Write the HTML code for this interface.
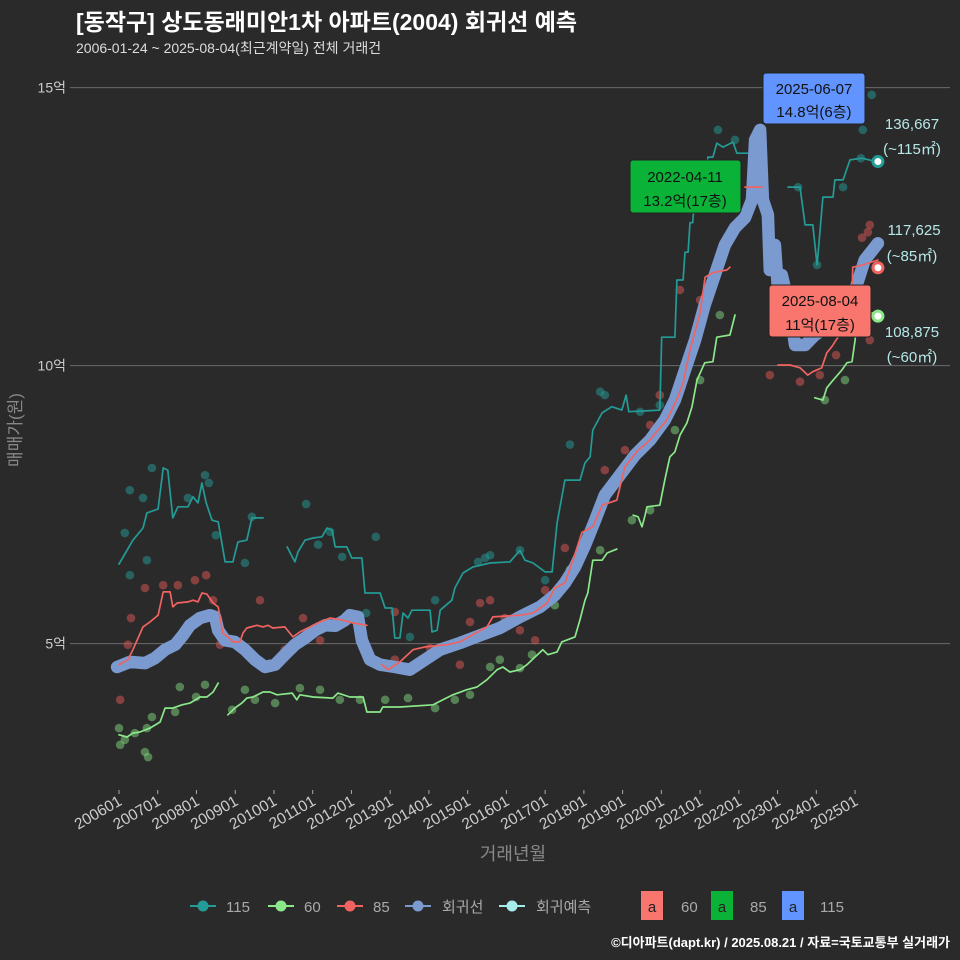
<!DOCTYPE html>
<html><head><meta charset="utf-8">
<style>
html,body{margin:0;padding:0;background:#2b2a2b;}
svg{display:block;font-family:"Liberation Sans","Noto Sans CJK KR",sans-serif;}
</style></head>
<body>
<svg id="chart" width="960" height="960" viewBox="0 0 960 960">
<rect x="0" y="0" width="960" height="960" fill="#2b2a2b"/>
<text x="76" y="30" fill="#ffffff" font-size="23" font-weight="bold">[동작구] 상도동래미안1차 아파트(2004) 회귀선 예측</text>
<text x="76" y="53" fill="#dddddd" font-size="14">2006-01-24 ~ 2025-08-04(최근계약일) 전체 거래건</text>
<g id="grid"></g>
<g id="yaxis"></g>
<g id="xaxis"></g>
<g id="dots"></g>
<g id="lines"></g>
<g id="ends"></g>
<text transform="translate(21,430) rotate(-90)" text-anchor="middle" fill="#888" font-size="17">매매가(원)</text>
<text x="513" y="860" text-anchor="middle" fill="#888" font-size="18">거래년월</text>

<g>
<rect x="763" y="73" width="102" height="51" rx="3" fill="#6194ff" stroke="#222" stroke-width="1"/>
<text x="814" y="94" text-anchor="middle" font-size="15" fill="#111">2025-06-07</text>
<text x="814" y="117" text-anchor="middle" font-size="15" fill="#111">14.8억(6층)</text>
</g>
<g>
<rect x="630" y="160" width="111" height="53" rx="3" fill="#0bb238" stroke="#222" stroke-width="1"/>
<text x="685" y="182" text-anchor="middle" font-size="15" fill="#111">2022-04-11</text>
<text x="685" y="206" text-anchor="middle" font-size="15" fill="#111">13.2억(17층)</text>
</g>
<g>
<rect x="769" y="285" width="102" height="52" rx="3" fill="#f8766d" stroke="#222" stroke-width="1"/>
<text x="820" y="306" text-anchor="middle" font-size="15" fill="#111">2025-08-04</text>
<text x="820" y="330" text-anchor="middle" font-size="15" fill="#111">11억(17층)</text>
</g>
<g fill="#b5e8e8" font-size="15">
<text x="912" y="129" text-anchor="middle">136,667</text>
<text x="912" y="154" text-anchor="middle">(~115㎡)</text>
<text x="914" y="235" text-anchor="middle">117,625</text>
<text x="912" y="261" text-anchor="middle">(~85㎡)</text>
<text x="912" y="337" text-anchor="middle">108,875</text>
<text x="912" y="362" text-anchor="middle">(~60㎡)</text>
</g>

<g font-size="15" fill="#aaa">
<g><line x1="190" y1="906" x2="216" y2="906" stroke="#239b96" stroke-width="2"/><circle cx="203" cy="906" r="5.5" fill="#239b96"/><text x="226" y="912">115</text></g>
<g><line x1="268" y1="906" x2="294" y2="906" stroke="#8ae88a" stroke-width="2"/><circle cx="281" cy="906" r="5.5" fill="#8ae88a"/><text x="304" y="912">60</text></g>
<g><line x1="337" y1="906" x2="363" y2="906" stroke="#f06360" stroke-width="2"/><circle cx="350" cy="906" r="5.5" fill="#f06360"/><text x="373" y="912">85</text></g>
<g><line x1="405" y1="906" x2="431" y2="906" stroke="#7b9bd0" stroke-width="2"/><circle cx="418" cy="906" r="5.5" fill="#7b9bd0"/><text x="442" y="912">회귀선</text></g>
<g><line x1="499" y1="906" x2="525" y2="906" stroke="#a6ecec" stroke-width="2"/><circle cx="512" cy="906" r="5.5" fill="#a6ecec"/><text x="536" y="912">회귀예측</text></g>
<g><rect x="641" y="891" width="22" height="29" fill="#f8766d"/><text x="652" y="912" text-anchor="middle" fill="#222">a</text><text x="681" y="912">60</text></g>
<g><rect x="711" y="891" width="22" height="29" fill="#0bb238"/><text x="722" y="912" text-anchor="middle" fill="#222">a</text><text x="750" y="912">85</text></g>
<g><rect x="782" y="891" width="22" height="29" fill="#6194ff"/><text x="793" y="912" text-anchor="middle" fill="#222">a</text><text x="820" y="912">115</text></g>
</g>
<text x="950" y="947" text-anchor="end" fill="#ffffff" font-size="13" font-weight="bold">©디아파트(dapt.kr) / 2025.08.21 / 자료=국토교통부 실거래가</text>
</svg>
<script>
// ---- data (year as decimal, price in 억) ----
const yTicks = [5, 10, 15];
const yTickLabels = ["5억", "10억", "15억"];
const xTickYears = [2006,2007,2008,2009,2010,2011,2012,2013,2014,2015,2016,2017,2018,2019,2020,2021,2022,2023,2024,2025];
const xTickLabels = ["200601","200701","200801","200901","201001","201101","201201","201301","201401","201501","201601","201701","201801","201901","202001","202101","202201","202301","202401","202501"];

const line115T = [2006.0,2006.36,2006.62,2006.72,2007.01,2007.14,2007.26,2007.39,2007.52,2007.78,2007.91,2008.04,2008.14,2008.25,2008.40,2008.56,2008.74,2008.94,2009.07,2009.30,2009.43,2009.72,null,2010.34,2010.54,2010.62,2010.80,2011.01,2011.24,2011.37,2011.50,2011.58,2011.88,2012.01,2012.27,2012.35,2012.74,2012.87,2013.05,2013.12,2013.25,2013.33,2013.46,2013.56,2014.03,2014.08,2014.21,2014.29,2014.59,2014.67,2014.88,2015.14,2015.58,2016.09,2016.35,2016.48,2016.69,2017.00,2017.18,2017.31,2017.51,2017.90,2018.03,2018.16,2018.23,2018.47,2018.72,2018.98,2019.09,2019.16,2019.96,2020.01,2020.35,2020.40,2020.56,2020.61,2020.69,2020.74,2020.81,2020.87,2021.18,2021.20,2021.33,2021.43,2021.59,2021.85,2021.95,2022.29,null,2023.27,2023.58,2023.71,2023.91,2024.02,2024.17,2024.43,2024.48,2024.69,2024.87,2025.18,2025.59];
const line115V = [6.43,6.86,7.08,7.35,7.42,8.16,8.12,7.26,7.46,7.46,7.64,7.53,7.89,7.53,7.22,7.19,6.47,6.47,6.83,6.86,7.26,7.26,null,6.74,6.47,6.65,6.86,6.90,6.92,7.08,7.04,6.74,6.74,6.54,6.54,5.91,5.91,5.64,5.64,5.10,5.10,5.55,5.46,5.60,5.60,5.21,5.24,5.60,5.78,6.00,6.27,6.38,6.45,6.47,6.68,6.50,6.45,6.29,6.29,7.17,7.94,7.94,8.25,8.36,8.84,9.15,9.26,9.20,9.47,9.17,9.20,10.51,10.51,11.54,11.54,12.04,12.04,12.57,12.57,13.16,13.16,13.75,13.75,14.00,13.93,14.02,13.82,13.82,null,13.21,13.21,12.53,12.53,11.81,13.03,13.03,13.34,13.34,13.70,13.73,13.66];

const line85T = [2006.0,2006.23,2006.36,2006.62,2006.80,2007.01,2007.14,2007.32,2007.39,2007.50,2007.78,2007.91,2008.04,2008.14,2008.27,2008.43,2008.56,2008.68,2008.81,2008.94,2009.12,2009.20,2009.30,2009.56,2009.72,2009.85,2009.97,2010.28,2010.49,2010.67,2010.93,2011.19,2011.45,2011.78,2012.04,2012.40,null,2012.79,2012.94,2013.25,2013.59,2013.90,2014.47,2014.80,2015.50,2015.65,2016.35,2016.69,2017.05,2017.25,2017.51,2017.72,2017.95,2018.23,2018.47,2018.85,2019.06,2019.40,2019.63,2020.14,2020.43,2020.56,2020.74,2021.00,2021.13,2021.33,2021.69,2021.77,null,2022.16,2022.60,null,2023.01,2023.32,2023.58,2023.78,2023.91,2024.14,2024.27,2024.40,2024.56,2024.79,2024.92,2024.94,2025.20,2025.59];
const line85V = [4.62,4.71,4.89,5.30,5.39,5.51,5.93,5.93,5.66,5.73,5.75,5.78,5.75,5.91,5.89,5.73,5.66,5.19,5.12,5.03,5.03,5.19,5.28,5.33,5.30,5.33,5.28,5.30,5.12,5.21,5.30,5.39,5.46,5.42,5.37,5.33,null,4.62,4.53,4.67,4.89,4.94,4.98,5.03,5.30,5.48,5.51,5.55,5.73,6.00,6.09,6.50,7.00,7.10,7.49,7.58,8.18,8.48,8.61,9.02,9.44,9.69,10.28,10.95,11.59,11.67,11.72,11.77,null,13.21,13.21,null,10.01,10.01,9.96,9.83,9.89,9.96,10.23,10.34,10.51,10.64,11.18,11.77,11.81,11.90];

const line60T = [2006.0,2006.21,2006.36,2006.54,2006.80,2007.06,2007.19,2007.39,2007.63,2007.83,2008.09,2008.27,2008.43,2008.56,null,2008.81,2008.99,2009.17,2009.30,2009.46,2009.72,2009.90,2010.08,2010.47,2010.59,2010.67,2011.01,2011.52,2011.65,2011.96,2012.30,2012.40,2012.74,2012.81,2013.25,2014.11,2014.36,2014.62,2014.98,2015.24,2015.50,2015.76,2015.91,2016.09,2016.35,2016.53,2016.74,2016.94,2017.07,2017.31,2017.43,2017.77,2017.90,2018.03,2018.10,2018.23,2018.47,2018.60,2018.85,null,2019.27,2019.40,2019.50,2019.58,2019.63,2019.96,2020.09,2020.22,2020.35,2020.48,2020.66,2020.79,2020.92,2021.12,2021.33,2021.43,2021.77,2021.90,null,2023.96,2024.17,2024.27,2024.40,2024.66,2024.79,2024.92,2025.00,2025.05,2025.46,2025.59];
const line60V = [3.36,3.32,3.39,3.41,3.48,3.59,3.84,3.84,3.90,3.93,4.04,4.04,4.13,4.29,null,3.72,3.84,3.93,4.02,4.04,4.13,4.13,4.08,4.11,3.99,4.08,4.04,4.02,4.11,4.04,4.04,3.77,3.77,3.86,3.86,3.90,3.99,4.08,4.17,4.22,4.35,4.53,4.58,4.49,4.53,4.62,4.76,4.89,4.80,4.85,5.03,5.12,5.43,5.78,5.91,6.50,6.50,6.63,6.70,null,7.31,7.28,7.10,7.31,7.46,7.49,7.94,8.36,8.45,8.75,8.97,9.26,9.74,10.05,10.07,10.51,10.55,10.91,null,9.42,9.38,9.60,9.71,9.92,10.05,10.07,10.46,10.86,10.95,10.87];

const regT = [2005.95,2006.28,2006.67,2006.93,2007.19,2007.45,2007.65,2007.83,2008.09,2008.35,2008.48,2008.56,2008.74,2008.99,2009.25,2009.51,2009.77,2010.03,2010.28,2010.54,2010.80,2011.06,2011.32,2011.58,2011.83,2011.96,2012.17,2012.27,2012.48,2012.74,2013.12,2013.51,2013.90,2014.29,2014.80,2015.32,2015.83,2016.35,2016.87,2017.25,2017.51,2017.77,2018.03,2018.29,2018.54,2018.93,2019.32,2019.71,2020.09,2020.35,2020.61,2020.87,2021.12,2021.38,2021.64,2021.90,2022.16,2022.34,2022.42,2022.55,2022.62,2022.75,2022.80,2022.93,2023.01,2023.11,2023.32,2023.45,2023.71,2023.96,2024.35,2024.74,2025.00,2025.25,2025.59];
const regV = [4.58,4.67,4.65,4.74,4.89,4.98,5.15,5.33,5.46,5.51,5.48,5.24,5.06,5.03,4.89,4.71,4.58,4.62,4.80,4.98,5.10,5.24,5.33,5.32,5.42,5.51,5.48,5.06,4.71,4.62,4.58,4.53,4.71,4.89,5.01,5.15,5.28,5.48,5.66,5.87,6.09,6.38,6.77,7.22,7.67,8.03,8.39,8.66,9.02,9.38,9.92,10.46,11.09,11.63,12.17,12.48,12.66,12.98,14.06,14.24,12.98,12.71,11.72,12.17,11.36,11.63,11.00,10.37,10.37,10.55,10.73,11.09,11.36,11.90,12.20];

const dots115T = [2006.15,2006.28,2006.85,2006.62,2006.72,2006.28,2007.78,2008.22,2008.32,2008.50,2009.25,2009.43,2010.83,2011.14,2011.45,2011.76,2012.38,2012.63,2013.51,2014.16,2015.27,2015.45,2015.58,2016.35,2017.00,2017.64,2018.42,2018.54,2019.45,2019.96,2021.00,2021.46,2021.90,2023.53,2024.02,2024.69,2025.20,2025.43,2025.15];
const dots115V = [6.99,7.76,8.16,7.62,6.50,6.23,7.62,8.03,7.89,6.95,6.45,7.28,7.51,6.78,7.01,6.56,5.55,6.92,5.12,5.78,6.47,6.54,6.59,6.68,6.14,8.58,9.53,9.47,9.17,9.29,13.16,14.24,14.06,13.21,11.81,13.21,14.24,14.87,13.73];
const dots85T = [2006.03,2006.23,2006.31,2006.67,2007.14,2007.52,2007.96,2008.25,2008.43,2008.61,2009.64,2010.28,2010.75,2011.19,2011.83,2013.12,2013.12,2014.03,2014.80,2015.06,2015.32,2015.58,2015.96,2016.35,2016.74,2017.00,2017.51,2018.29,2018.54,2019.06,2019.71,2019.96,2020.48,2021.00,2021.36,2022.80,2023.58,2024.09,2024.51,2025.33,2025.38,2025.18,2025.38];
const dots85V = [3.99,4.98,5.46,6.00,6.05,6.05,6.14,6.23,5.78,4.98,5.78,4.89,5.46,5.06,5.42,5.57,4.71,4.92,4.62,5.39,5.73,5.78,5.46,5.24,5.06,5.96,6.72,7.31,8.12,8.48,8.93,9.47,11.36,11.18,11.50,9.83,9.71,9.83,10.19,12.40,12.53,12.30,10.46];
const dots60T = [2006.0,2006.03,2006.15,2006.41,2006.67,2006.75,2006.72,2006.85,2007.45,2007.57,2007.99,2008.22,2008.92,2009.25,2009.51,2010.03,2010.67,2011.19,2011.70,2012.22,2012.87,2013.46,2014.16,2014.67,2015.06,2015.58,2015.83,2016.35,2016.66,2017.25,2017.64,2018.42,2019.24,2019.71,2020.35,2021.00,2021.51,2024.22,2024.74,2025.13];
const dots60V = [3.48,3.18,3.27,3.39,3.05,2.96,3.48,3.68,3.77,4.22,4.04,4.26,3.81,4.17,3.99,3.93,4.20,4.17,3.99,3.99,3.99,4.02,3.84,3.99,4.08,4.58,4.71,4.56,4.80,5.69,6.33,6.68,7.22,7.40,8.84,9.74,10.91,9.38,9.74,11.36];

const end115 = [2025.59, 13.67];
const end85 = [2025.59, 11.76];
const end60 = [2025.59, 10.89];

// ---- scales ----
const X0 = 119, PX_PER_YEAR = 38.74;
const Y0 = 921.6, PX_PER_EOK = 55.6;
function xs(t){ return X0 + (t - 2006) * PX_PER_YEAR; }
function ys(v){ return Y0 - v * PX_PER_EOK; }
const NS = "http://www.w3.org/2000/svg";
function mk(tag, parent){ const e = document.createElementNS(NS, tag); parent.appendChild(e); return e; }

const grid = document.getElementById('grid');
const yax = document.getElementById('yaxis');
yTicks.forEach((v, i) => {
  const l = mk('line', grid);
  
  
  l.setAttribute('x1', 70); l.setAttribute('x2', 950);
  l.setAttribute('y1', ys(v)); l.setAttribute('y2', ys(v));
  l.setAttribute('stroke', '#6a6a6a'); l.setAttribute('stroke-width', '1');
  const t = mk('text', yax);
  
  
  t.setAttribute('x', 66); t.setAttribute('y', ys(v) + 5);
  t.setAttribute('text-anchor', 'end'); t.setAttribute('fill', '#cccccc'); t.setAttribute('font-size', '14');
  t.textContent = yTickLabels[i];
});
const xax = document.getElementById('xaxis');
xTickYears.forEach((yr, i) => {
  const x = xs(yr);
  const tk = mk('line', xax);
  
  
  tk.setAttribute('x1', x); tk.setAttribute('x2', x);
  tk.setAttribute('y1', 790); tk.setAttribute('y2', 794);
  tk.setAttribute('stroke', '#aaa');
  const t = mk('text', xax);
  
  
  t.setAttribute('transform', 'translate(' + (x + 4) + ',804) rotate(-30)');
  t.setAttribute('text-anchor', 'end'); t.setAttribute('fill', '#cccccc'); t.setAttribute('font-size', '15.5');
  t.textContent = xTickLabels[i];
});

const dotsG = document.getElementById('dots');
function drawDots(T, V, color, name){
  T.forEach((t, i) => {
    const c = mk('circle', dotsG);
    
    
    c.setAttribute('cx', xs(t)); c.setAttribute('cy', ys(V[i])); c.setAttribute('r', 4.3);
    c.setAttribute('fill', color); c.setAttribute('fill-opacity', '0.5');
  });
}
drawDots(dots115T, dots115V, '#239b96', 'point-115');
drawDots(dots85T, dots85V, '#e05555', 'point-85');
drawDots(dots60T, dots60V, '#7fd87f', 'point-60');

const linesG = document.getElementById('lines');
function pathD(T, V){
  let d = '', pen = false;
  T.forEach((t, i) => {
    if (t === null || V[i] === null) { pen = false; return; }
    d += (pen ? 'L' : 'M') + xs(t).toFixed(1) + ',' + ys(V[i]).toFixed(1);
    pen = true;
  });
  return d;
}
function drawLine(T, V, color, w, name){
  const p = mk('path', linesG);
  
  
  p.setAttribute('d', pathD(T, V));
  p.setAttribute('fill', 'none'); p.setAttribute('stroke', color);
  p.setAttribute('stroke-width', w);
  p.setAttribute('stroke-linejoin', 'round'); p.setAttribute('stroke-linecap', 'round');
}
drawLine(line115T, line115V, '#239b96', 1.7, 'line-115');
drawLine(line60T, line60V, '#8ae88a', 1.7, 'line-60');
drawLine(regT, regV, '#7b9bd0', 12.5, 'regression-line');
drawLine(line85T, line85V, '#f06360', 1.7, 'line-85');

const endsG = document.getElementById('ends');
function drawEnd(p, color, name){
  const c = mk('circle', endsG);
  
  
  c.setAttribute('cx', xs(p[0])); c.setAttribute('cy', ys(p[1])); c.setAttribute('r', 5);
  c.setAttribute('fill', '#ffffff'); c.setAttribute('stroke', color); c.setAttribute('stroke-width', '3');
}
drawEnd(end115, '#239b96', 'end-marker-115');
drawEnd(end85, '#f06360', 'end-marker-85');
drawEnd(end60, '#8ae88a', 'end-marker-60');
</script>
</body></html>
